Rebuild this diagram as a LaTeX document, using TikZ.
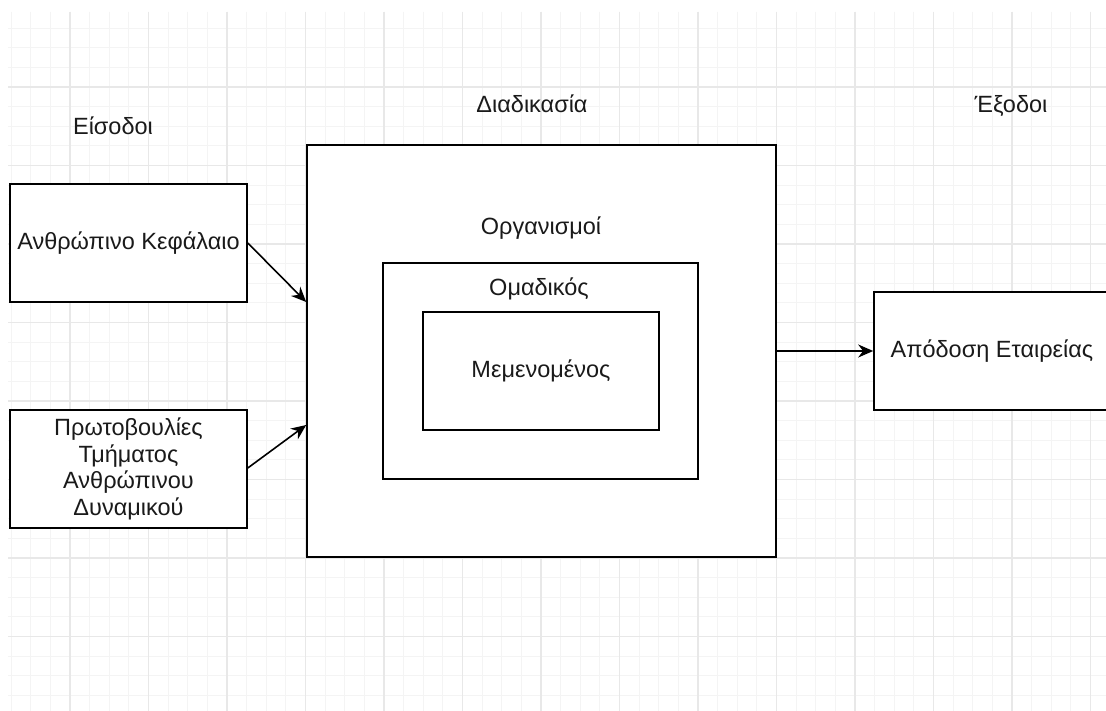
\documentclass[tikz,border=0pt]{standalone}
\usepackage{fontspec}
\setmainfont{Liberation Sans}
\usetikzlibrary{arrows.meta}
\definecolor{gridmajor}{HTML}{E8E8E8}
\definecolor{gridminor}{HTML}{F4F4F4}
\definecolor{ink}{HTML}{1A1A1A}
\begin{document}
\begin{tikzpicture}[x=1pt,y=-1pt,
  box/.style={draw=black,line width=1.6pt,fill=white,inner sep=0pt,align=center,
    text=ink,font=\fontsize{23.5}{26.5}\selectfont},
  lbl/.style={inner sep=0pt,text=ink,font=\fontsize{23.5}{26.5}\selectfont},
  conn/.style={draw=black,line width=1.6pt,-{Stealth[length=15pt,width=13pt]}}]
% page
\fill[white] (0,0) rectangle (1106,711);
\useasboundingbox (0,0) rectangle (1106,711);
% background grid
\begin{scope}
\clip (8,12) rectangle (1106,711);
\foreach \i in {-4,...,56} {
  \draw[gridminor,line width=0.8pt] ({70+19.625*\i},12) -- ({70+19.625*\i},711);
  \draw[gridminor,line width=0.8pt] (8,{87+19.625*\i}) -- (1106,{87+19.625*\i});
}
\foreach \i in {-1,...,14} {
  \draw[gridmajor,line width=1.1pt] ({70+78.5*\i},12) -- ({70+78.5*\i},711);
  \draw[gridmajor,line width=1.1pt] (8,{87+78.5*\i}) -- (1106,{87+78.5*\i});
}
\end{scope}
% column headings
\node[lbl] (hin)  at (113,126) {Είσοδοι};
\node[lbl] (hpro) at (532,104) {Διαδικασία};
\node[lbl] (hout) at (1011,106) {Έξοδοι};
% inputs
\node[box,minimum width=237pt,minimum height=118pt] (cap) at (128.5,243) {Ανθρώπινο Κεφάλαιο};
\node[box,minimum width=237pt,minimum height=118pt] (hr) at (128.5,469)
  {Πρωτοβουλίες\\Τμήματος\\Ανθρώπινου\\Δυναμικού};
% process: nested levels
\node[box,minimum width=469pt,minimum height=412pt] (org) at (541.5,351) {};
\node[box,minimum width=315pt,minimum height=216pt] (grp) at (540.5,371) {};
\node[box,minimum width=236pt,minimum height=118pt] (ind) at (541,371) {Μεμενομένος};
\node[lbl] (orgl) at (541,228) {Οργανισμοί};
\node[lbl] (grpl) at (539,289) {Ομαδικός};
% output
\node[box,minimum width=236pt,minimum height=118pt] (perf) at (992,351) {Απόδοση Εταιρείας};
% connectors
\draw[conn] (cap.east) -- ([yshift=49pt]org.west);
\draw[conn] ([yshift=1pt]hr.east) -- ([yshift=-74pt]org.west);
\draw[conn] (org.east) -- (perf.west);
\end{tikzpicture}
\end{document}
